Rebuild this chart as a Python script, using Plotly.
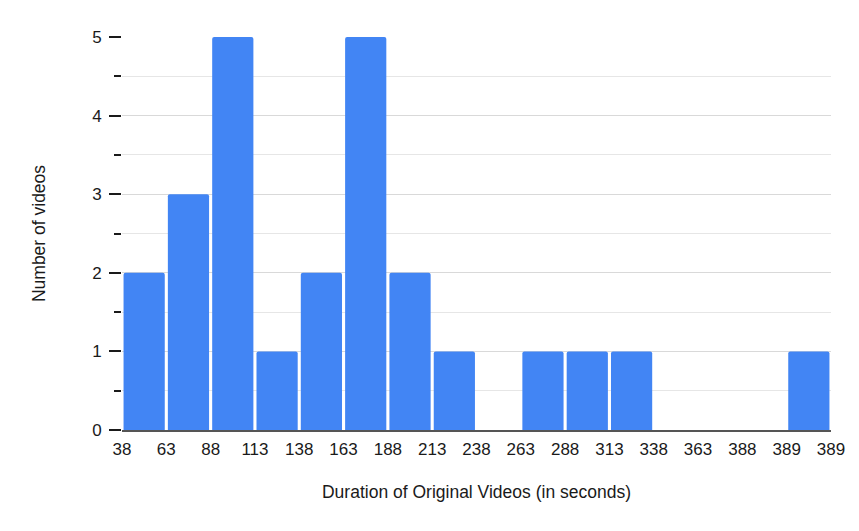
import plotly.graph_objects as go

bin_edges = ["38", "63", "88", "113", "138", "163", "188", "213", "238", "263",
             "288", "313", "338", "363", "388", "389", "389"]
counts = [2, 3, 5, 1, 2, 5, 2, 1, 0, 1, 1, 1, 0, 0, 0, 1]

x_centers = [i + 0.5 for i in range(len(counts))]

fig = go.Figure()
fig.add_trace(go.Bar(
    x=x_centers,
    y=counts,
    width=0.93,
    marker=dict(color="#4285F4", line=dict(width=0)),
    hoverinfo="y",
))

font_family = "Liberation Sans, Arial, sans-serif"
tick_size = 17
title_size = 17.5
txt = "#1a1a1a"

fig.update_layout(
    width=859,
    height=531,
    margin=dict(l=114, r=36, t=29, b=109),
    paper_bgcolor="white",
    plot_bgcolor="white",
    showlegend=False,
    barcornerradius=2,
    font=dict(family=font_family, size=tick_size, color=txt),
    xaxis=dict(
        range=[0, len(counts)],
        tickmode="array",
        tickvals=list(range(len(bin_edges))),
        ticktext=bin_edges,
        showgrid=False,
        zeroline=False,
        showline=True,
        linecolor="#555555",
        linewidth=1.5,
        ticks="",
        ticklabelstandoff=3,
        tickfont=dict(size=tick_size, color=txt),
        title=dict(text="Duration of Original Videos (in seconds)",
                   font=dict(size=title_size, color=txt), standoff=28),
    ),
    yaxis=dict(
        range=[0, 5],
        tickmode="array",
        tickvals=[0, 1, 2, 3, 4, 5],
        showgrid=True,
        gridcolor="#d9d9d9",
        gridwidth=1,
        zeroline=False,
        showline=False,
        ticks="outside",
        ticklen=12,
        tickwidth=1.5,
        tickcolor=txt,
        ticklabelstandoff=4,
        tickfont=dict(size=tick_size, color=txt),
        minor=dict(
            tickmode="array",
            tickvals=[0.5, 1.5, 2.5, 3.5, 4.5],
            ticks="outside",
            ticklen=7,
            tickwidth=1.5,
            tickcolor=txt,
            showgrid=True,
            gridcolor="#e6e6e6",
            gridwidth=1,
        ),
        title=dict(text="Number of videos",
                   font=dict(size=title_size, color=txt), standoff=42),
    ),
)

fig.write_html("out.html")
